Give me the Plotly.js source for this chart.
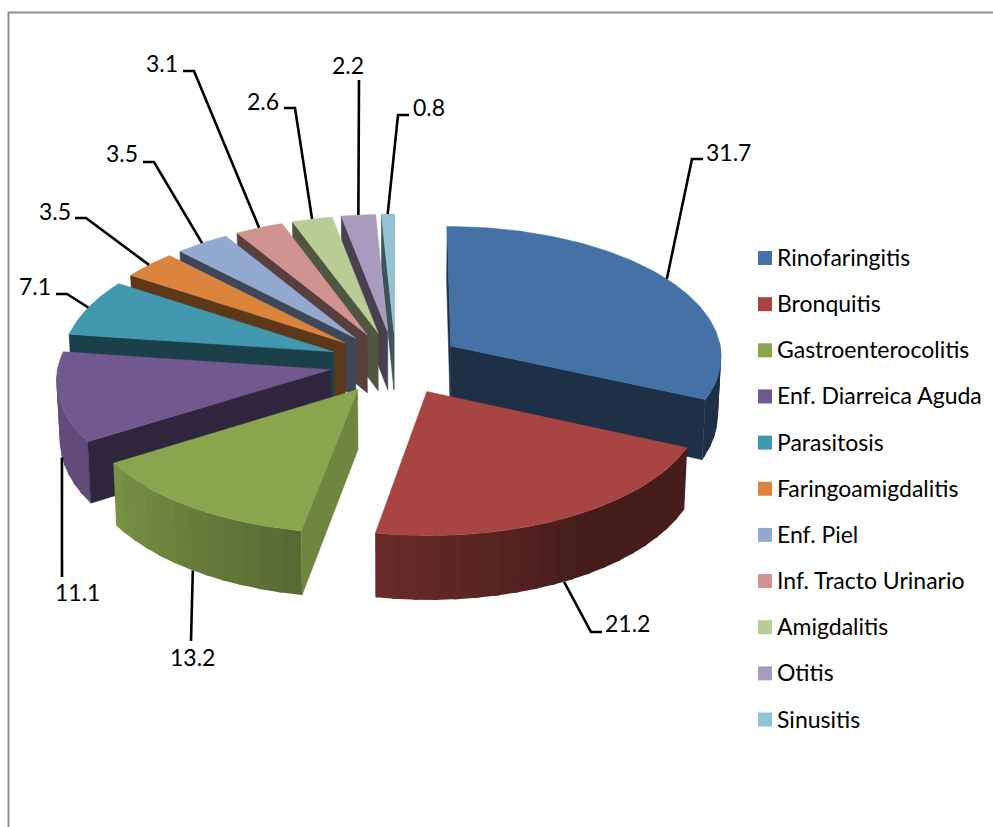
<!DOCTYPE html>
<html>
<head>
<meta charset="utf-8">
<script src="https://cdn.plot.ly/plotly-3.0.1.min.js"></script>
<style>html,body{margin:0;padding:0;background:#fff;overflow:hidden}</style>
</head>
<body>
<div id="chart" style="width:993px;height:827px"></div>
<script>
// Consultation causes, percentage per diagnosis
const categories = ["Rinofaringitis","Bronquitis","Gastroenterocolitis","Enf. Diarreica Aguda","Parasitosis","Faringoamigdalitis","Enf. Piel","Inf. Tracto Urinario","Amigdalitis","Otitis","Sinusitis"];
const values = [31.7,21.2,13.2,11.1,7.1,3.5,3.5,3.1,2.6,2.2,0.8];
const colors = ["#4472A6","#A84542","#89A54E","#71588F","#4198AF","#DB843D","#93A9CF","#D19392","#B9CD96","#A99BBD","#92C3D4"];

// Leader line bends and value label centres, one row per slice
const leaderBends = [
  [[692,159],[703,159]], [[591,632],[602,632]], [[191,641]], [[62,577]],
  [[67,294],[56,294]], [[86,218],[75,218]], [[154,162],[143,162]],
  [[194,71],[183,71]], [[295,108],[284,108]], [[359,80]], [[398,115],[409,115]]
];
const labelCentres = [[728,152],[627,623],[192,657],[77,592],[35,286],[55,211],[122,153],[162,63],[263,101],[348,65],[429,107]];

// Tilted pie projection: unit-disc coordinates to pixel space
const cx = 395.5, cy = 363, Rx = 272, Ry = 130, tilt = 0.069, depth = 59, explode = 0.244;
function project(u, v, z) {
  const s = 1 / (1 + tilt * v);
  return [cx + Rx * u * s * (1 - 0.01 * z), cy - Ry * v * s + depth * z * s];
}
const rad = d => d * Math.PI / 180;
function shade(hex, f) {
  const n = parseInt(hex.slice(1), 16);
  const c = [n >> 16, (n >> 8) & 255, n & 255].map(x => Math.round(x * f));
  return "rgb(" + c.join(",") + ")";
}
// Outer wall brightness by compass angle
function rimLight(a) {
  if (a <= 150) return 0.42;
  if (a <= 237) return 0.42 + (a - 150) / 87 * 0.46;
  return 0.85;
}
// Radial wall brightness by the direction its face looks at
function wallLight(normal) {
  const n = (normal + 360) % 360;
  return n > 95 && n < 120 ? 0.81 : 0.42;
}

const total = values.reduce((a, b) => a + b, 0);
let running = 0;
const slices = values.map((v, i) => {
  const a0 = running / total * 360;
  running += v;
  const a1 = running / total * 360;
  const mid = (a0 + a1) / 2;
  return { i, a0, a1, mid, ou: explode * Math.sin(rad(mid)), ov: explode * Math.cos(rad(mid)) };
});
const rimPoint = (sl, a, z) => project(sl.ou + Math.sin(rad(a)), sl.ov + Math.cos(rad(a)), z);

const traces = [];
function polygon(points, color, width) {
  traces.push({
    type: "scatter", mode: "lines", fill: "toself", fillcolor: color,
    x: points.map(p => p[0]), y: points.map(p => p[1]),
    line: { color: color, width: width }, hoverinfo: "skip", showlegend: false
  });
}
function drawSlice(sl) {
  const base = colors[sl.i];
  const apex0 = project(sl.ou, sl.ov, 0), apex1 = project(sl.ou, sl.ov, 1);
  // Outer wall in short strips, only where it faces the viewer
  const step = 4;
  for (let a = sl.a0; a < sl.a1; a += step) {
    const b = Math.min(a + step, sl.a1), c = Math.min(b + 1, sl.a1);
    if (Math.cos(rad((a + b) / 2)) > 0.03) continue;
    polygon([rimPoint(sl, a, 0), rimPoint(sl, c, 0), rimPoint(sl, c, 1), rimPoint(sl, a, 1)],
      shade(base, rimLight((a + b) / 2)), 0);
  }
  // Cut faces that look toward the viewer
  [[sl.a0, sl.a0 - 90], [sl.a1, sl.a1 + 90]].forEach(([a, normal]) => {
    if (Math.cos(rad(normal)) > 0.05) return;
    polygon([apex0, rimPoint(sl, a, 0), rimPoint(sl, a, 1), apex1, apex0], shade(base, wallLight(normal)), 0.5);
  });
  const top = [apex0];
  for (let a = sl.a0; a < sl.a1; a += 1) top.push(rimPoint(sl, a, 0));
  top.push(rimPoint(sl, sl.a1, 0), apex0);
  polygon(top, base, 0.5);
}
// Back slices first, then the front ones over them
[10,9,8,7,6,5,4,3,2,0,1].forEach(i => drawSlice(slices[i]));

// Leader lines from the slice edge to each value label
slices.forEach(sl => {
  const front = Math.cos(rad(sl.mid)) < 0;
  const pts = [rimPoint(sl, sl.mid, front ? 1 : 0)].concat(leaderBends[sl.i]);
  traces.push({
    type: "scatter", mode: "lines", x: pts.map(p => p[0]), y: pts.map(p => p[1]),
    line: { color: "#000", width: 2.6 }, hoverinfo: "skip", showlegend: false
  });
});

// Key down the right side
const keyX = 765, keyTop = 258, keyGap = 46.15;
traces.push({
  type: "scatter", mode: "markers", hoverinfo: "skip", showlegend: false,
  x: categories.map(() => keyX), y: categories.map((c, i) => keyTop + i * keyGap),
  marker: { symbol: "square", size: 14, color: colors, line: { width: 0 } }
});

const font = { family: "Lato, 'Noto Sans', sans-serif", size: 23, color: "#000" };
const annotations = values.map((v, i) => ({
  x: labelCentres[i][0], y: labelCentres[i][1], xref: "x", yref: "y",
  text: v.toFixed(1), showarrow: false, xanchor: "center", yanchor: "middle", font
})).concat(categories.map((c, i) => ({
  x: 775, y: keyTop + i * keyGap - 1, xref: "x", yref: "y",
  text: c, showarrow: false, xanchor: "left", yanchor: "middle", font
})));

const hidden = { visible: false, fixedrange: true };
Plotly.newPlot("chart", traces, {
  width: 993, height: 827, margin: { l: 0, r: 0, t: 0, b: 0 },
  paper_bgcolor: "#fff", plot_bgcolor: "#fff", showlegend: false,
  xaxis: Object.assign({ range: [0, 993] }, hidden),
  yaxis: Object.assign({ range: [827, 0] }, hidden),
  annotations,
  shapes: [{
    type: "path", xref: "x", yref: "y", path: "M 8.5 827 L 8.5 12.5 L 993 12.5",
    line: { color: "#8f8f8f", width: 2 }
  }]
}, { displayModeBar: false, staticPlot: true });
</script>
</body>
</html>
